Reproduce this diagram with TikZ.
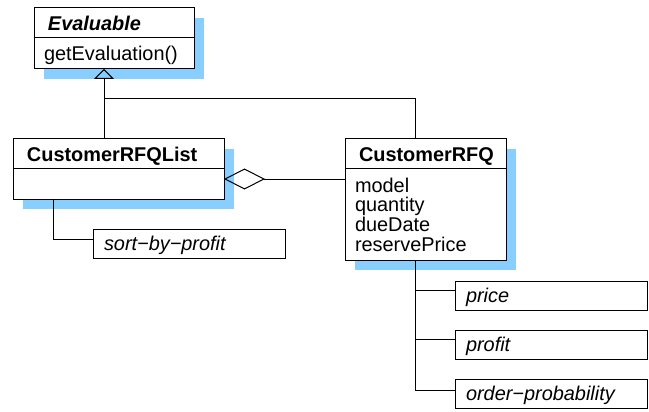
\documentclass[tikz,border=0pt]{standalone}
\usepackage{fontspec}
\setmainfont{Liberation Sans}
\usepackage{tikz}
\usetikzlibrary{arrows.meta,positioning,shadows}
\definecolor{shadowblue}{RGB}{136,206,255}
\newcommand{\umlfont}{\fontsize{19.9}{19.7}\selectfont}
\hyphenpenalty=10000

\begin{document}
\begin{tikzpicture}[x=1pt,y=-1pt,line width=1pt,font=\umlfont,
		node distance=20pt]
		\tikzstyle{box}=[draw,fill=white,align=left,inner ysep=0pt,outer sep=0pt]
		\tikzstyle{blueshadow}=[general shadow={fill=shadowblue,shadow xshift=10pt,shadow yshift=-10pt}]
		\tikzstyle{classhead}=[box,blueshadow,minimum height=30,inner xsep=14,text height=14.3,text depth=0,font=\umlfont\bfseries]
		\tikzstyle{classbody}=[box,blueshadow,inner xsep=10]
		\tikzstyle{feature}=[box,minimum height=29,inner xsep=11,text width=170,text height=13.5,text depth=0,font=\umlfont\itshape]
		
		\useasboundingbox (0,0) rectangle (649,412);
		
		% classes
		\node[classhead,text width=132] (evalHead) at (34,8) [anchor=north west] {\itshape Evaluable};
		\node[classbody,text width=140,minimum height=31,text height=14.3,text depth=0] (evalBody) [below=0pt of evalHead] {getEvaluation()};
		
		\node[classhead,text width=183] (listHead) at (13,139) [anchor=north west] {CustomerRFQList};
		\node[classbody,text width=191,minimum height=30] (listBody) [below=0pt of listHead] {};
		
		\node[classhead,text width=133] (rfqHead) at (345,139) [anchor=north west] {CustomerRFQ};
		\node[classbody,text width=141,minimum height=91] (rfqBody) [below=0pt of rfqHead] {model\\quantity\\dueDate\\reservePrice};
		
		% features
		\node[feature] (sort) at (93,229) [anchor=north west] {sort−by−profit};
		\node[feature] (price) at (455,281) [anchor=north west] {price};
		\node[feature] (profit) [below=of price] {profit};
		\node[feature] (order) [below=of profit] {order−probability};
		
		% generalization
		\coordinate (gen) at ([xshift=-10pt]evalBody.south);
		\draw[-{Triangle[open,length=10pt,width=20pt]}] (listHead.north -| gen) -- (gen);
		\draw ([yshift=-30pt]gen) -| ([xshift=-10.5pt]rfqHead.north);
		
		% aggregation
		\coordinate (aggr) at ([yshift=5pt]listBody.east);
		\draw[{Diamond[open,length=41pt,width=21pt]}-] (aggr) -- (aggr -| rfqBody.west);
		
		% links to features
		\draw ([xshift=-65.5pt]listBody.south) |- ([yshift=-10pt]sort.north west);
		\coordinate (trunk) at ([xshift=-10.5pt]rfqBody.south);
		\draw (trunk) |- ([yshift=-11pt]order.north west);
		\foreach \f in {price,profit}
		\draw ([yshift=-9pt]\f.north west) -- ++(-40,0);
\end{tikzpicture}
\end{document}
